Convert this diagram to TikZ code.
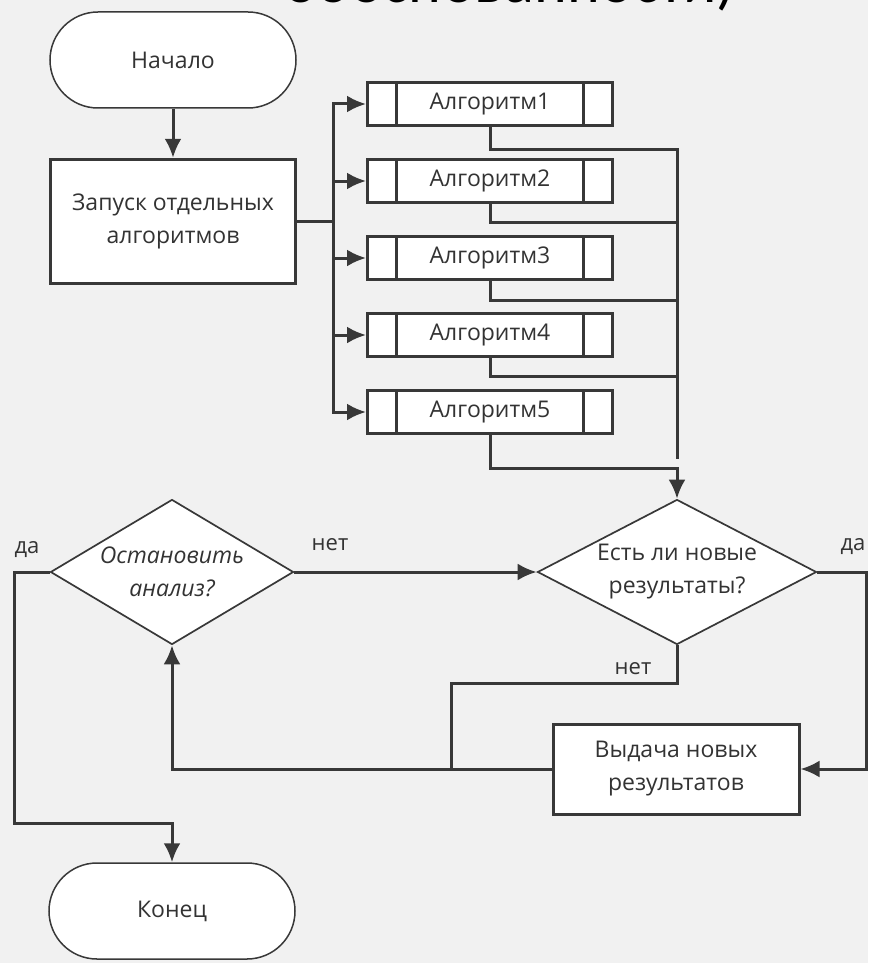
\documentclass[tikz,border=0pt]{standalone}
\usepackage{fontspec}
\setmainfont{Open Sans}
\newfontfamily\titlefont{Carlito}
\usepackage{tikz}
\usetikzlibrary{arrows.meta, positioning, shapes.geometric, calc}
\usepackage{xcolor}
\definecolor{linegray}{HTML}{383838}
\definecolor{bggray}{HTML}{F1F1F1}

\begin{document}
\begin{tikzpicture}[
      x=1pt, y=-1pt,
      >={Latex[length=19pt,width=17pt]},
      node distance=31pt,
      every node/.style={text=black!80, font=\fontsize{23}{33}\selectfont},
      flow/.style={draw=linegray, line width=3pt},
      terminal/.style={
        rectangle, draw=linegray, line width=1.5pt, rounded corners=48pt,
        fill=white, minimum width=246pt, minimum height=96pt
      },
      process/.style={
        rectangle, draw=linegray, line width=3pt, fill=white,
        align=center, minimum width=245pt
      },
      algbox/.style={
        process, minimum height=43pt, inner sep=0pt,
        path picture={
          \draw[linegray, line width=2.2pt]
            ([xshift=29pt]path picture bounding box.north west) -- ([xshift=29pt]path picture bounding box.south west)
            ([xshift=-29pt]path picture bounding box.north east) -- ([xshift=-29pt]path picture bounding box.south east);
        }
      },
      decision/.style={
        diamond, draw=linegray, line width=1.7pt, fill=white,
        align=center, inner sep=0pt
      },
      lbl/.style={font=\fontsize{22}{26}\selectfont}
    ]
    \fill[bggray] (0,0) rectangle (868,963);
    \useasboundingbox (0,0) rectangle (868,963);

    \begin{scope}
      \clip (0,0) rectangle (868,963);
      \node[anchor=base, text=black, font=\titlefont\fontsize{62}{70}\selectfont] (title) at (510,3) {обоснованности)};
    \end{scope}

    \node[terminal] (start) at (173,60) {Начало};
    \node[process, minimum height=124pt, below=49pt of start] (launch) {Запуск отдельных\\алгоритмов};

    \node[algbox] (alg1) at (490,104) {Алгоритм1};
    \foreach \i [count=\j from 1] in {2,...,5}
      \node[algbox, below=of alg\j] (alg\i) {Алгоритм\i};

    \node[decision, minimum width=243pt, minimum height=145pt, aspect=1.68,
          font=\fontsize{23}{33}\selectfont\itshape] (stop) at (172,572) {Остановить\\анализ?};
    \node[decision, minimum width=279pt, minimum height=145pt, aspect=1.92] (check) at (677,572) {Есть ли новые\\результаты?};
    \node[process, minimum height=90pt, minimum width=246pt] (out) at (676,769) {Выдача новых\\результатов};
    \node[terminal] (finish) at (172,911) {Конец};

    \node[lbl] (yesstop)  at (27,550)  {да};
    \node[lbl] (nostop)   at (330,545) {нет};
    \node[lbl] (yescheck) at (853,547) {да};
    \node[lbl] (nocheck)  at (633,669) {нет};

    \coordinate (trunk) at ($(check.north)+(0,-40)$);

    \draw[flow,->] (start) -- (launch);
    \foreach \i in {1,...,5}
      \draw[flow,->] (launch.east) -- ++(36,0) |- (alg\i.west);
    \foreach \i/\d in {1/22, 2/18, 3/19, 4/18}
      \draw[flow] (alg\i.south) -- ++(0,\d) -| (trunk);
    \draw[flow,->] (alg5.south) -- ++(0,33) -| (check.north);

    \draw[flow,->] (stop.east) -- (check.west);
    \draw[flow,->] (stop.west) -| ++(-35,251) -| (finish.north);
    \draw[flow] (check.south) -- ++(0,38) -| ($(out.west)+(-100,0)$);
    \draw[flow,->] (out.west) -| (stop.south);
    \draw[flow,->] (check.east) -- ++(49,0) |- (out.east);
  \end{tikzpicture}
\end{document}
